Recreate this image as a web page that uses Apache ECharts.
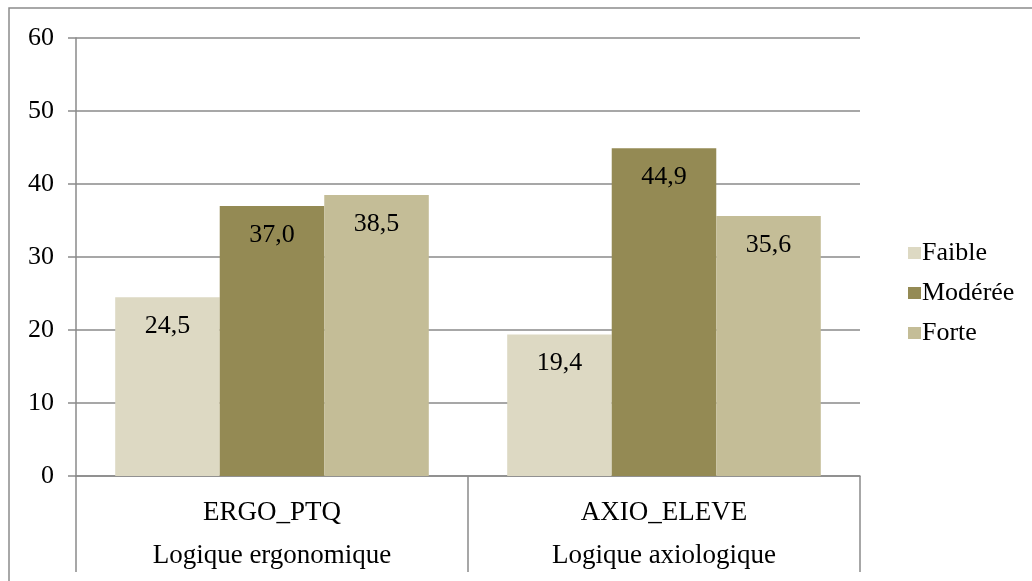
<!DOCTYPE html>
<html>
<head>
<meta charset="utf-8">
<script src="https://cdn.jsdelivr.net/npm/echarts@6/dist/echarts.min.js"></script>
<style>
html,body{margin:0;padding:0;background:#fff;}
#chart{width:1032px;height:581px;}
</style>
</head>
<body>
<div id="chart"></div>
<script>
var categories = ['ERGO_PTQ', 'AXIO_ELEVE'];
var groupLabels = ['Logique ergonomique', 'Logique axiologique'];
var seriesNames = ['Faible', 'Modérée', 'Forte'];
var faible = [24.5, 19.4];
var moderee = [37.0, 44.9];
var forte = [38.5, 35.6];
var yTicks = [0, 10, 20, 30, 40, 50, 60];

var colors = ['#DDD9C3', '#948A54', '#C4BD97'];
var font = '"Liberation Serif", "Times New Roman", serif';
var gridColor = '#8a8a8a';

function fmt(v) { return v.toFixed(1).replace('.', ','); }

var chart = echarts.init(document.getElementById('chart'));
var values = [faible, moderee, forte];
chart.setOption({
  animation: false,
  textStyle: { fontFamily: font },
  graphic: [{
    type: 'rect',
    shape: { x: 9, y: 8, width: 1200, height: 800 },
    style: { fill: 'none', stroke: '#8c8c8c', lineWidth: 1.5 },
    silent: true
  }],
  grid: { left: 76, right: 172, top: 38, bottom: 105, containLabel: false },
  legend: {
    orient: 'vertical',
    left: 903,
    top: 235,
    itemWidth: 13,
    itemHeight: 12,
    itemGap: 14,
    icon: 'rect',
    data: seriesNames,
    textStyle: { fontFamily: font, fontSize: 26, color: '#000', lineHeight: 25, padding: [0, 0, 0, -4] }
  },
  xAxis: [{
    type: 'category',
    data: categories,
    position: 'bottom',
    axisLine: { show: true, lineStyle: { color: gridColor, width: 1.5 } },
    axisTick: { show: true, interval: 0, length: 96, lineStyle: { color: gridColor, width: 1.5 } },
    axisLabel: { interval: 0, margin: 23, fontFamily: font, fontSize: 27, color: '#000' }
  }, {
    type: 'category',
    data: groupLabels,
    position: 'bottom',
    axisLine: { show: false },
    axisTick: { show: false },
    axisLabel: { interval: 0, margin: 66, fontFamily: font, fontSize: 27, color: '#000' }
  }],
  yAxis: {
    type: 'value',
    min: yTicks[0],
    max: yTicks[yTicks.length - 1],
    interval: 10,
    axisLine: { show: true, lineStyle: { color: gridColor, width: 1.5 } },
    axisTick: { show: true, length: 8, lineStyle: { color: gridColor, width: 1.5 } },
    splitLine: { show: true, lineStyle: { color: gridColor, width: 1.5 } },
    axisLabel: { margin: 22, fontFamily: font, fontSize: 26, color: '#000' }
  },
  series: seriesNames.map(function (name, i) {
    return {
      name: name,
      type: 'bar',
      xAxisIndex: 0,
      data: values[i],
      barGap: '0%',
      barCategoryGap: '20%',
      itemStyle: { color: colors[i] },
      label: {
        show: true,
        position: 'insideTop',
        distance: 16,
        fontFamily: font,
        fontSize: 26,
        color: '#000',
        formatter: function (p) { return fmt(p.value); }
      }
    };
  })
});
</script>
</body>
</html>
